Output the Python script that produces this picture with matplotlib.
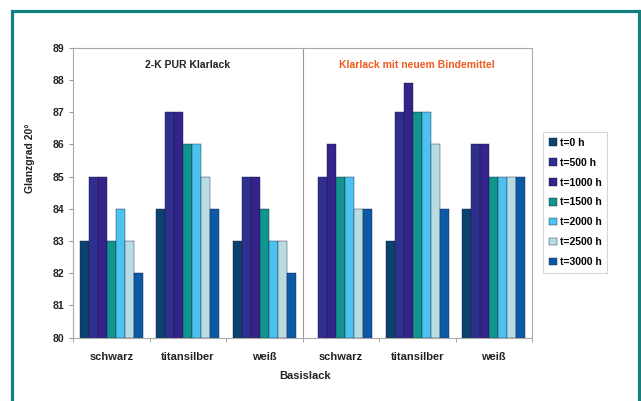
import matplotlib
matplotlib.use("Agg")
import matplotlib.pyplot as plt
import numpy as np
from matplotlib.patches import Rectangle

plt.rcParams['font.family'] = ['Liberation Sans', 'DejaVu Sans']
plt.rcParams['font.weight'] = 'bold'

categories = ['schwarz', 'titansilber', 'weiß', 'schwarz', 'titansilber', 'weiß']
series_labels = ['t=0 h', 't=500 h', 't=1000 h', 't=1500 h', 't=2000 h', 't=2500 h', 't=3000 h']
t0 = [83, 84, 83, np.nan, 83, 84]
t500 = [85, 87, 85, 85, 87, 86]
t1000 = [85, 87, 85, 86, 87.9, 86]
t1500 = [83, 86, 84, 85, 87, 85]
t2000 = [84, 86, 83, 85, 87, 85]
t2500 = [83, 85, 83, 84, 86, 85]
t3000 = [82, 84, 82, 84, 84, 85]
series = [t0, t500, t1000, t1500, t2000, t2500, t3000]
colors = ['#0b436f', '#2f2f8e', '#33238a', '#10968e', '#4cc2ee', '#b7dde3', '#0c5aa6']
group_titles = ['2-K PUR Klarlack', 'Klarlack mit neuem Bindemittel']

fig = plt.figure(figsize=(6.41, 4.01), dpi=100)
ax = fig.add_axes([73 / 641, 1 - 337.7 / 401, (532 - 73) / 641, (337.7 - 47.7) / 401])

x = np.arange(len(categories))
w = 0.118
for i, (vals, lab, c) in enumerate(zip(series, series_labels, colors)):
    vals = np.array(vals, dtype=float)
    ax.bar(x + (i - 3) * w, vals - 80, bottom=80, width=w, color=c,
           edgecolor='#1b1b40', linewidth=0.3, label=lab)

ax.set_xlim(-0.5, 5.5)
ax.set_ylim(80, 89)
ax.set_yticks(np.arange(80, 90, 1))
ax.set_yticklabels([str(v) for v in range(80, 90)], fontsize=7.5, color='#222222')
ax.set_xticks(x)
ax.set_xticklabels(categories, fontsize=8, color='#222222')
ax.set_xticks(np.arange(-0.5, 6, 1), minor=True)
ax.tick_params(axis='x', which='major', length=0, pad=10)
ax.tick_params(axis='x', which='minor', length=3, color='#999999')
ax.tick_params(axis='y', length=3, color='#999999', pad=3)
for s in ax.spines.values():
    s.set_color('#aaaaaa')
    s.set_linewidth(0.8)
ax.axvline(2.5, color='#999999', linewidth=0.8)

ax.text(1.0, 88.45, group_titles[0], ha='center', va='center', fontsize=7.5, color='#222222')
ax.text(4.0, 88.45, group_titles[1], ha='center', va='center', fontsize=7.5, color='#f05a1e')

fig.text(30 / 641, 1 - 158 / 401, 'Glanzgrad 20°', rotation=90, ha='center', va='center',
         fontsize=7.5, color='#222222')
fig.text(305 / 641, 1 - 376 / 401, 'Basislack', ha='center', va='center', fontsize=8,
         color='#222222')

leg = fig.legend(loc='upper left', bbox_to_anchor=(543 / 641, 1 - 132 / 401), fontsize=7.5,
                 frameon=True, fancybox=False, handlelength=0.75, handleheight=0.75,
                 handletextpad=0.3, labelspacing=0.95, borderpad=0.55, borderaxespad=0)
leg.get_frame().set_edgecolor('#cccccc')
leg.get_frame().set_linewidth(0.8)

fig.patches.append(Rectangle((11.5 / 641, -0.05), (638.5 - 11.5) / 641, 1.05 - 10.8 / 401,
                             transform=fig.transFigure, fill=False, edgecolor='#137f7f',
                             linewidth=2.3, clip_on=False))

fig.savefig('out.png', dpi=100)
